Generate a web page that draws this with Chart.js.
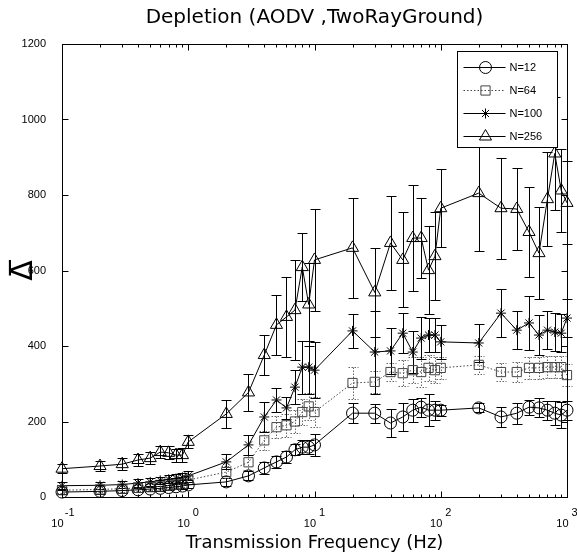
<!DOCTYPE html>
<html><head><meta charset="utf-8">
<script src="https://cdn.jsdelivr.net/npm/chart.js@4"></script>
<style>html,body{margin:0;padding:0;background:#fff}#wrap{width:577px;height:557px}</style>
</head><body><div id="wrap"><canvas id="c" width="577" height="557"></canvas></div>
<script>
// ---- data ----
const freqs = [0.1,0.2,0.3,0.4,0.5,0.6,0.7,0.8,0.9,1, 2,3,4,5,6,7,8,9,10, 20,30,40,50,60,70,80,90,100, 200,300,400,500,600,700,800,900,1000];
const seriesLabels = ['N=12','N=64','N=100','N=256'];
const n12  = [13,15,17,19,21,23,25,27,29,32, 40,56,77,93,106,125,132,132,138, 222,222,196,212,230,238,230,230,230, 236,212,222,238,236,230,222,217,230];
const err12 = [6,6,6,6,6,6,6,7,7,8, 10,12,15,15,15,15,18,18,30, 26,25,38,37,30,25,42,25,15, 12,26,28,20,25,25,31,35,25];
const n64  = [18,20,22,24,26,28,30,32,35,45, 66,92,150,185,190,200,225,240,225, 302,305,331,328,336,331,342,336,342, 350,331,331,342,342,344,344,344,323];
const err64 = [8,8,8,8,8,8,8,8,9,10, 15,20,25,30,30,30,35,35,40, 42,30,25,35,35,40,35,35,30, 24,25,26,30,30,30,30,30,30];
const n100 = [30,31,33,37,40,44,47,49,52,56, 93,138,212,257,236,291,344,344,336, 440,384,387,434,384,421,429,429,411, 408,487,442,461,429,442,437,434,474];
const err100 = [10,10,10,10,10,10,11,11,12,12, 20,26,40,33,30,45,70,70,75, 46,110,60,53,55,55,45,45,45, 51,64,51,71,53,50,50,50,50];
const n256 = [75,82,87,98,103,119,117,111,111,146, 220,277,376,456,477,495,609,510,628, 660,542,673,628,686,686,601,638,765, 805,765,763,702,646,789,910,812,779];
const err256 = [12,14,15,15,16,16,17,17,18,17, 36,50,53,80,106,132,90,111,135, 132,117,124,126,140,107,117,116,103, 154,134,108,119,121,125,150,110,110];
const yTicks = [0,200,400,600,800,1000,1200];
const xMajor = [0.1,1,10,100,1000];
const xExponents = ['-1','0','1','2','3'];

const FONT = "'Liberation Sans', Arial, Helvetica, sans-serif";
const TFONT = "'DejaVu Sans', 'Liberation Sans', sans-serif";
Chart.defaults.font.family = FONT;
Chart.defaults.color = '#000';

function mk(label, vals, errs, style, radius, dash, color, errColor, errDash) {
  return {
    label, data: freqs.map((f, i) => ({x: f, y: vals[i]})),
    errors: errs, errColor, errDash,
    borderColor: color, backgroundColor: 'rgba(0,0,0,0)',
    pointBackgroundColor: 'rgba(0,0,0,0)', pointBorderColor: color,
    borderWidth: 1, borderDash: dash, pointStyle: style, pointRadius: radius,
    pointBorderWidth: 1, tension: 0, clip: false
  };
}

const errorBars = {
  id: 'errorBars',
  beforeDatasetsDraw(chart) {
    const {ctx, scales: {x, y}} = chart;
    chart.data.datasets.forEach(ds => {
      ctx.save();
      ctx.strokeStyle = ds.errColor; ctx.lineWidth = 1; ctx.setLineDash(ds.errDash || []);
      ds.data.forEach((p, i) => {
        const px = Math.round(x.getPixelForValue(p.x)) + 0.5;
        const yt = Math.round(y.getPixelForValue(p.y + ds.errors[i])) + 0.5;
        const yb = Math.round(y.getPixelForValue(Math.max(0, p.y - ds.errors[i]))) + 0.5;
        ctx.beginPath();
        ctx.moveTo(px, yt); ctx.lineTo(px, yb);
        ctx.moveTo(px - 5, yt); ctx.lineTo(px + 5, yt);
        ctx.moveTo(px - 5, yb); ctx.lineTo(px + 5, yb);
        ctx.stroke();
      });
      ctx.restore();
    });
  }
};

const frame = {
  id: 'frame',
  afterDatasetsDraw(chart) {
    const {ctx, chartArea: a, scales: {x, y}} = chart;
    ctx.save();
    ctx.strokeStyle = '#000'; ctx.lineWidth = 1; ctx.setLineDash([]);
    const L = Math.round(a.left) + 0.5, R = Math.round(a.right) + 0.5, T = Math.round(a.top) + 0.5, B = Math.round(a.bottom) + 0.5;
    ctx.strokeRect(L, T, R - L, B - T);
    ctx.beginPath();
    for (let k = 0; k < xMajor.length - 1; k++) {
      for (let m = 1; m <= 9; m++) {
        const v = xMajor[k] * m;
        const px = Math.round(x.getPixelForValue(v)) + 0.5;
        const len = m === 1 ? 6 : 3;
        ctx.moveTo(px, B); ctx.lineTo(px, B - len);
        ctx.moveTo(px, T); ctx.lineTo(px, T + len);
      }
    }
    yTicks.forEach(v => {
      const py = Math.round(y.getPixelForValue(v)) + 0.5;
      ctx.moveTo(L, py); ctx.lineTo(L + 6, py);
      ctx.moveTo(R, py); ctx.lineTo(R - 6, py);
    });
    ctx.stroke();
    ctx.restore();
  }
};

const legendBox = {
  id: 'legendBox',
  afterDraw(chart) {
    const {ctx, chartArea: a} = chart;
    const w = 100, h = 96;
    const L = Math.round(a.right - 10 - w) + 0.5, T = Math.round(a.top + 7) + 0.5;
    ctx.save();
    ctx.fillStyle = '#fff'; ctx.fillRect(L, T, w, h);
    ctx.strokeStyle = '#000'; ctx.lineWidth = 1; ctx.strokeRect(L, T, w, h);
    chart.data.datasets.forEach((ds, i) => {
      const yy = Math.round(T + 15 + i * 23.3) + 0.5;
      ctx.strokeStyle = ds.borderColor; ctx.setLineDash(ds.borderDash || []);
      ctx.beginPath(); ctx.moveTo(L + 6, yy); ctx.lineTo(L + 48, yy); ctx.stroke();
      ctx.setLineDash([]);
      ctx.strokeStyle = ds.pointBorderColor; ctx.fillStyle = 'rgba(0,0,0,0)';
      Chart.helpers.drawPoint(ctx, {pointStyle: ds.pointStyle, radius: ds.pointRadius, borderWidth: 1, rotation: 0}, L + 28, yy);
      ctx.fillStyle = '#000'; ctx.font = '11px ' + FONT; ctx.textAlign = 'left'; ctx.textBaseline = 'middle';
      ctx.fillText(ds.label, L + 52, yy);
    });
    ctx.restore();
  }
};

new Chart(document.getElementById('c'), {
  type: 'line',
  data: {
    datasets: [
      mk(seriesLabels[0], n12, err12, 'circle', 6, [], '#000', '#000', []),
      mk(seriesLabels[1], n64, err64, 'rect', 6.5, [1.5, 2], '#444', '#666', [1.5, 1.5]),
      mk(seriesLabels[2], n100, err100, 'star', 5, [], '#000', '#000', []),
      mk(seriesLabels[3], n256, err256, 'triangle', 7, [], '#000', '#000', [])
    ]
  },
  options: {
    responsive: false, animation: false, devicePixelRatio: 1,
    layout: {padding: {left: 0, right: 10, top: 0, bottom: 0}},
    plugins: {
      legend: {display: false}, tooltip: {enabled: false},
      title: {display: true, fullSize: false, text: 'Depletion (AODV ,TwoRayGround)', color: '#000',
        font: {family: TFONT, size: 20, weight: 'normal', lineHeight: 1.2}, padding: {top: 6, bottom: 14}}
    },
    scales: {
      x: {
        type: 'logarithmic', min: 0.1, max: 1000,
        afterBuildTicks: s => { s.ticks = xMajor.map(v => ({value: v, major: true})); },
        afterFit: s => { s.height = 60; s.paddingLeft = 0; s.paddingRight = 0; },
        grid: {display: false, drawTicks: false}, border: {display: false},
        ticks: {autoSkip: false, maxRotation: 0, minRotation: 0, padding: 10, font: {size: 11, lineHeight: 1},
          callback: (v, i) => ['     ' + xExponents[i], '10   ']},
        title: {display: true, text: 'Transmission Frequency (Hz)', font: {family: TFONT, size: 18, lineHeight: 1}, padding: {top: 0, bottom: 5}}
      },
      y: {
        min: 0, max: 1200,
        afterBuildTicks: s => { s.ticks = yTicks.map(v => ({value: v})); },
        afterFit: s => { s.width = 62; s.paddingTop = 0; s.paddingBottom = 0; },
        grid: {display: false, drawTicks: false}, border: {display: false},
        ticks: {padding: 16, font: {size: 11}, callback: v => String(v)},
        title: {display: true, text: '\u0394\u0305', font: {family: TFONT, size: 30, lineHeight: 1}, padding: {top: 9, bottom: 0}}
      }
    }
  },
  plugins: [errorBars, frame, legendBox]
});
</script>
</body></html>
